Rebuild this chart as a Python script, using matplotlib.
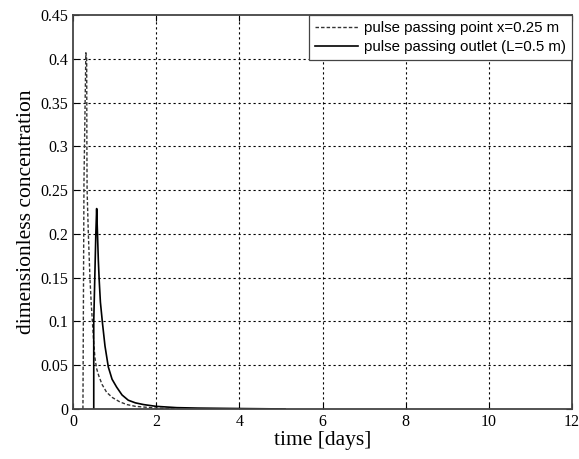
import numpy as np
import matplotlib
matplotlib.use("Agg")
import matplotlib.pyplot as plt

# pulse at x = 0.25 m (dashed)
t_point = [0.24, 0.265, 0.31, 0.33, 0.335, 0.34, 0.37, 0.41, 0.44, 0.47, 0.50, 0.53,
           0.57, 0.62, 0.70, 0.81, 0.95, 1.13, 1.3, 1.5, 1.75, 2.0, 2.3, 2.6]
c_point = [0.0, 0.26, 0.407, 0.40, 0.30, 0.25, 0.20, 0.148, 0.12, 0.098, 0.075, 0.058,
           0.046, 0.038, 0.028, 0.019, 0.013, 0.008, 0.005, 0.003, 0.002, 0.001, 0.0005, 0.0]

# pulse at outlet L = 0.5 m (solid)
t_outlet = [0.50, 0.50, 0.55, 0.57, 0.59, 0.61, 0.63, 0.66, 0.71, 0.77, 0.85, 0.94,
            1.05, 1.18, 1.33, 1.5, 1.7, 2.0, 2.5, 3.0, 4.0, 5.1]
c_outlet = [0.0, 0.10, 0.20, 0.229, 0.20, 0.17, 0.148, 0.122, 0.098, 0.072, 0.048, 0.034,
            0.025, 0.016, 0.010, 0.007, 0.005, 0.003, 0.0015, 0.001, 0.0005, 0.0]

xticks = [0, 2, 4, 6, 8, 10, 12]
yticks = [0, 0.05, 0.1, 0.15, 0.2, 0.25, 0.3, 0.35, 0.4, 0.45]
ytick_labels = ["0", "0.05", "0.1", "0.15", "0.2", "0.25", "0.3", "0.35", "0.4", "0.45"]

fig = plt.figure(figsize=(5.79, 4.59), dpi=100)
ax = fig.add_axes([0.126, 0.109, 0.862, 0.858])

ax.plot(t_point, c_point, color="#333333", linestyle=(0, (2.5, 1.5)), linewidth=1.0,
        label="pulse passing point x=0.25 m")
ax.plot(t_outlet, c_outlet, color="black", linestyle="-", linewidth=1.2,
        label="pulse passing outlet (L=0.5 m)")

ax.set_xlim(0, 12)
ax.set_ylim(0, 0.45)
ax.set_xticks(xticks)
ax.set_yticks(yticks)
ax.set_yticklabels(ytick_labels)
ax.grid(True, color="black", linestyle=(0, (2, 2.5)), linewidth=0.8)
# no grid lines on the frame itself
for gl in (ax.xaxis.get_gridlines()[0], ax.xaxis.get_gridlines()[-1],
           ax.yaxis.get_gridlines()[0], ax.yaxis.get_gridlines()[-1]):
    gl.set_visible(False)
ax.tick_params(direction="in", top=True, right=True, length=4, labelsize=11.5)
for lab in ax.get_xticklabels() + ax.get_yticklabels():
    lab.set_family("Liberation Serif")
for s in ax.spines.values():
    s.set_color("#444444")
    s.set_linewidth(1.3)
    s.set_zorder(5)

ax.set_xlabel("time [days]", family="Liberation Serif", fontsize=15.5, labelpad=1)
ax.set_ylabel("dimensionless concentration", family="Liberation Serif", fontsize=15.5, labelpad=3)

leg = ax.legend(loc="upper right", prop={"family": "Liberation Sans", "size": 10.8},
                fancybox=False, framealpha=1, edgecolor="#444444",
                borderaxespad=0.0, handlelength=2.9, handletextpad=0.4,
                borderpad=0.4, labelspacing=0.35)
leg.get_frame().set_linewidth(0.9)

fig.savefig("out.png", dpi=100)
